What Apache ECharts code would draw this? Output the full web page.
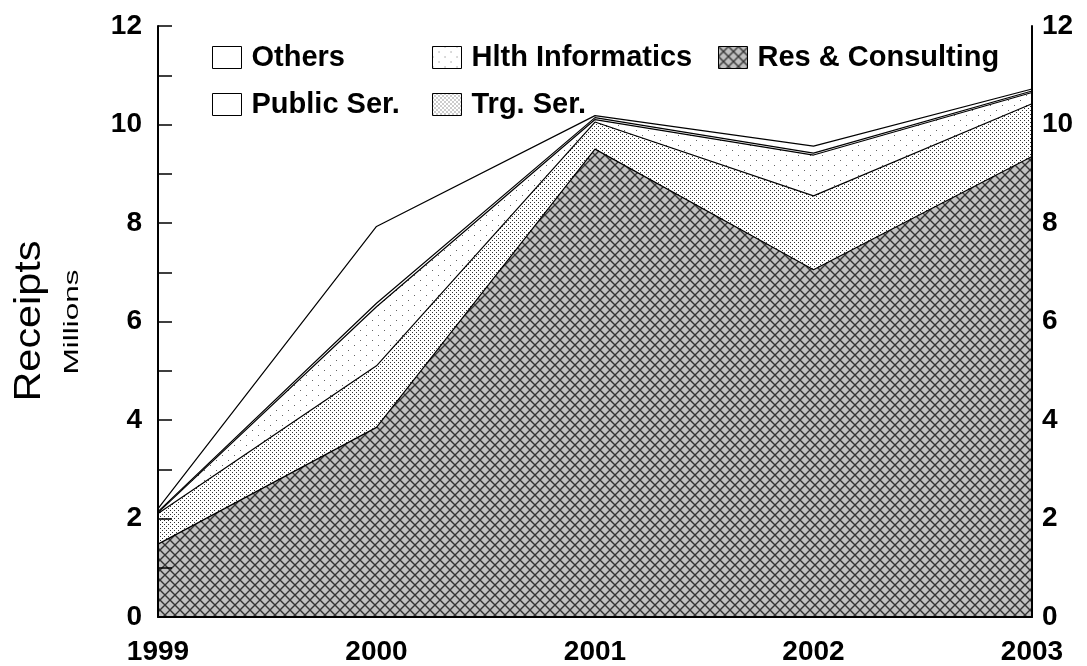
<!DOCTYPE html>
<html>
<head>
<meta charset="utf-8">
<script src="https://cdn.jsdelivr.net/npm/echarts@6/dist/echarts.min.js"></script>
<style>
html,body{margin:0;padding:0;background:#fff;}
#chart{width:1087px;height:666px;}
</style>
</head>
<body>
<div id="chart"></div>
<script>
// ---- data ----
const years = ['1999', '2000', '2001', '2002', '2003'];
const resConsulting = [1.48, 3.85, 9.5, 7.05, 9.35];
const trgSer = [0.62, 1.25, 0.55, 1.5, 1.07];
const hlthInformatics = [0.02, 1.2, 0.05, 0.83, 0.23];
const publicSer = [0.02, 0.07, 0.04, 0.04, 0.03];
const others = [0.06, 1.56, 0.04, 0.14, 0.04];
const yTicks = [0, 2, 4, 6, 8, 10, 12];

// ---- patterns ----
function makeTile(w, h, draw) {
  const c = document.createElement('canvas');
  c.width = w; c.height = h;
  const ctx = c.getContext('2d');
  draw(ctx, w, h);
  return { image: c, repeat: 'repeat' };
}
const crossPat = makeTile(10, 10, (ctx, w, h) => {
  ctx.fillStyle = '#c0c0c0';
  ctx.fillRect(0, 0, w, h);
  ctx.strokeStyle = '#333333';
  ctx.lineWidth = 1.4;
  ctx.beginPath();
  ctx.moveTo(-1, -1); ctx.lineTo(w + 1, h + 1);
  ctx.moveTo(w + 1, -1); ctx.lineTo(-1, h + 1);
  ctx.stroke();
});
const densePat = makeTile(4, 4, (ctx, w, h) => {
  ctx.fillStyle = '#ffffff';
  ctx.fillRect(0, 0, w, h);
  ctx.fillStyle = '#333333';
  ctx.fillRect(0, 0, 1, 1);
  ctx.fillRect(2, 2, 1, 1);
});
const sparsePat = makeTile(12, 10, (ctx, w, h) => {
  ctx.fillStyle = '#ffffff';
  ctx.fillRect(0, 0, w, h);
  ctx.fillStyle = '#666666';
  ctx.fillRect(0, 0, 1, 1);
  ctx.fillRect(6, 5, 1, 1);
});

const FONT = '"Liberation Sans", Arial, sans-serif';

function mkSeries(name, data, fill, z) {
  return {
    name: name,
    type: 'line',
    stack: 'total',
    data: data,
    symbol: 'none',
    showSymbol: false,
    z: z,
    lineStyle: { color: '#000', width: 1.2 },
    itemStyle: { color: fill },
    areaStyle: { color: fill, opacity: 1 },
    emphasis: { disabled: true }
  };
}

function legendItem(name, fill) {
  return { name: name, icon: 'rect', itemStyle: { color: fill, borderColor: '#000', borderWidth: 1 } };
}
const legendCommon = {
  orient: 'vertical',
  top: 38,
  itemWidth: 29,
  itemHeight: 22,
  itemGap: 18,
  selectedMode: false,
  textStyle: { fontFamily: FONT, fontWeight: 'bold', fontSize: 29, lineHeight: 28, color: '#000', padding: [0, 0, 0, 5] }
};

const chart = echarts.init(document.getElementById('chart'), null, { renderer: 'canvas' });
chart.setOption({
  animation: false,
  backgroundColor: '#fff',
  grid: { left: 158, right: 55, top: 26, bottom: 49, containLabel: false },
  legend: [
    Object.assign({}, legendCommon, { left: 207, data: [legendItem('Others', '#fff'), legendItem('Public Ser.', '#fff')] }),
    Object.assign({}, legendCommon, { left: 427, data: [legendItem('Hlth Informatics', sparsePat), legendItem('Trg. Ser.', densePat)] }),
    Object.assign({}, legendCommon, { left: 713, data: [legendItem('Res & Consulting', crossPat)] })
  ],
  xAxis: {
    type: 'category',
    data: years,
    boundaryGap: false,
    z: 20,
    axisLine: { show: true, lineStyle: { color: '#000', width: 2 } },
    axisTick: { show: false },
    axisLabel: { color: '#000', fontFamily: FONT, fontWeight: 'bold', fontSize: 28, margin: 21 },
    splitLine: { show: false }
  },
  yAxis: [
    {
      type: 'value', min: 0, max: 12, interval: 1, position: 'left', z: 20,
      axisLine: { show: true, lineStyle: { color: '#000', width: 2 } },
      axisTick: { show: true, inside: true, length: 14, lineStyle: { color: '#000', width: 1.5 } },
      axisLabel: {
        color: '#000', fontFamily: FONT, fontWeight: 'bold', fontSize: 28, margin: 16,
        formatter: v => (yTicks.indexOf(v) >= 0 ? String(v) : '')
      },
      splitLine: { show: false }
    },
    {
      type: 'value', min: 0, max: 12, interval: 1, position: 'right', z: 20,
      axisLine: { show: true, lineStyle: { color: '#000', width: 2 } },
      axisTick: { show: false },
      axisLabel: {
        color: '#000', fontFamily: FONT, fontWeight: 'bold', fontSize: 28, margin: 10,
        formatter: v => (yTicks.indexOf(v) >= 0 ? String(v) : '')
      },
      splitLine: { show: false }
    }
  ],
  series: [
    mkSeries('Res & Consulting', resConsulting, crossPat, 10),
    mkSeries('Trg. Ser.', trgSer, densePat, 9),
    mkSeries('Hlth Informatics', hlthInformatics, sparsePat, 8),
    mkSeries('Public Ser.', publicSer, '#fff', 7),
    mkSeries('Others', others, '#fff', 6)
  ],
  graphic: [
    {
      type: 'text', x: 30, y: 321, rotation: Math.PI / 2, scaleX: 1.15,
      style: { text: 'Receipts', fontFamily: FONT, fontSize: 36, fill: '#000', align: 'center', verticalAlign: 'middle' }
    },
    {
      type: 'text', x: 72, y: 322, rotation: Math.PI / 2, scaleX: 1.5,
      style: { text: 'Millions', fontFamily: FONT, fontSize: 21, fill: '#000', align: 'center', verticalAlign: 'middle' }
    }
  ]
});
</script>
</body>
</html>
